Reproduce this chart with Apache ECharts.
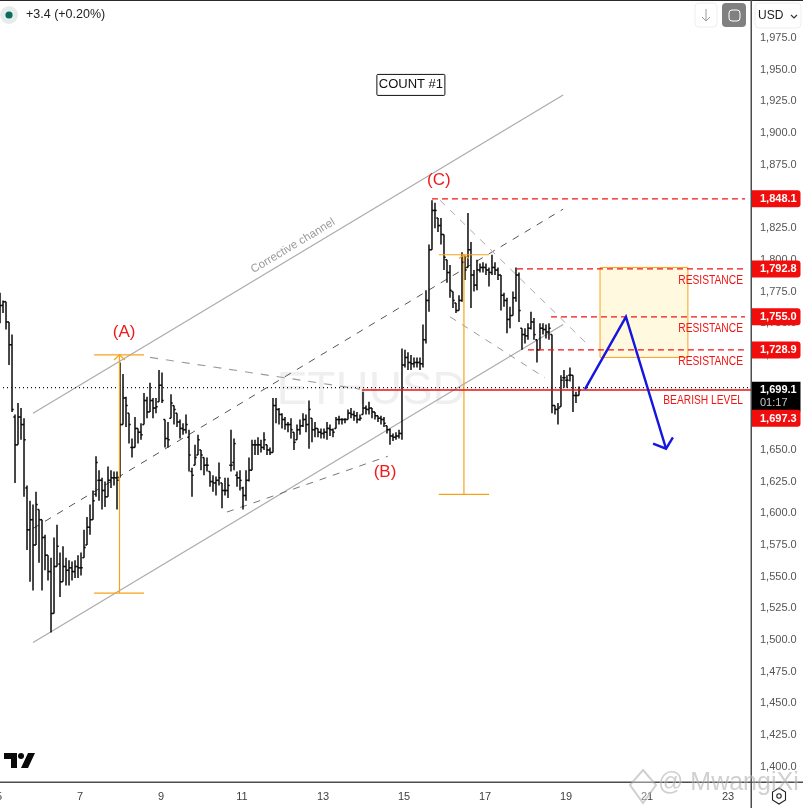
<!DOCTYPE html>
<html><head><meta charset="utf-8">
<style>html,body{margin:0;padding:0;background:#fff}#c{width:803px;height:808px}</style>
<script src="https://cdn.jsdelivr.net/npm/echarts@6/dist/echarts.min.js"></script>
</head><body><div id="c"></div>
<script>
const dayStart = 5.025, barDays = 0.07407;
const highs = [1774,1768,1760,1742,1741,1678,1687,1683,1675,1622,1610,1607,1617,1603,1595,1583,1567,1565,1581,1591,1569,1574,1565,1563,1562,1563,1567,1569,1587,1597,1607,1618,1645,1634,1628,1625,1637,1634,1633,1633,1719,1710,1692,1679,1659,1676,1667,1671,1695,1692,1703,1691,1691,1713,1711,1674,1672,1694,1685,1679,1674,1671,1678,1666,1636,1654,1662,1650,1644,1644,1633,1630,1629,1640,1624,1628,1628,1666,1659,1633,1634,1621,1634,1644,1658,1658,1660,1658,1664,1654,1652,1691,1691,1683,1679,1676,1672,1675,1664,1670,1674,1679,1678,1689,1675,1672,1667,1667,1667,1672,1670,1667,1676,1677,1675,1675,1682,1683,1681,1680,1678,1696,1685,1688,1683,1680,1677,1677,1676,1669,1667,1663,1664,1666,1730,1729,1727,1725,1723,1723,1723,1749,1776,1812,1847,1845,1833,1833,1820,1800,1796,1775,1766,1772,1806,1803,1837,1814,1792,1800,1797,1798,1797,1794,1804,1798,1794,1788,1774,1770,1763,1775,1794,1790,1746,1746,1750,1759,1754,1737,1750,1750,1749,1750,1741,1685,1687,1709,1713,1709,1715,1709,1696,1700];
const lows = [1750,1758,1745,1717,1680,1624,1654,1658,1613,1571,1546,1539,1581,1561,1539,1555,1547,1506,1551,1562,1534,1549,1543,1543,1547,1549,1549,1551,1565,1575,1583,1601,1613,1610,1603,1605,1614,1620,1622,1603,1628,1671,1668,1655,1644,1659,1655,1658,1670,1675,1680,1675,1679,1688,1687,1652,1652,1675,1670,1668,1659,1662,1663,1633,1613,1638,1646,1634,1630,1633,1621,1617,1614,1622,1604,1614,1612,1633,1634,1621,1618,1603,1610,1625,1644,1646,1646,1648,1650,1646,1646,1648,1671,1670,1667,1666,1664,1659,1650,1658,1662,1668,1664,1651,1656,1660,1660,1659,1659,1658,1661,1660,1667,1670,1670,1671,1674,1675,1673,1671,1673,1678,1678,1678,1675,1674,1672,1670,1668,1663,1654,1657,1658,1659,1658,1715,1713,1713,1715,1715,1713,1715,1734,1759,1808,1825,1822,1812,1792,1782,1770,1762,1758,1760,1767,1784,1794,1762,1775,1776,1790,1790,1788,1779,1788,1788,1784,1760,1763,1742,1746,1760,1767,1751,1729,1734,1737,1745,1737,1719,1731,1741,1738,1737,1679,1678,1670,1684,1699,1699,1704,1680,1687,1693];
const closes = [1764,1767,1751,1733,1682,1654,1676,1670,1658,1587,1595,1575,1607,1595,1581,1567,1554,1521,1558,1574,1546,1558,1555,1557,1554,1558,1557,1557,1573,1589,1595,1610,1640,1626,1618,1613,1626,1628,1628,1626,1670,1691,1685,1670,1652,1667,1664,1662,1689,1680,1689,1683,1684,1701,1689,1659,1658,1687,1682,1672,1667,1666,1670,1646,1630,1644,1658,1646,1638,1638,1625,1624,1626,1628,1618,1618,1622,1638,1655,1628,1626,1614,1626,1634,1654,1654,1654,1652,1658,1650,1648,1685,1682,1678,1674,1670,1670,1666,1656,1666,1669,1674,1670,1682,1666,1667,1664,1663,1664,1667,1666,1664,1674,1674,1674,1674,1679,1678,1677,1674,1675,1683,1682,1683,1680,1677,1675,1674,1671,1666,1661,1660,1661,1663,1717,1723,1719,1718,1719,1719,1718,1737,1768,1808,1839,1839,1827,1820,1802,1790,1776,1768,1760,1768,1798,1792,1808,1788,1780,1792,1794,1794,1792,1790,1794,1792,1788,1772,1768,1753,1756,1770,1788,1760,1741,1740,1746,1751,1741,1729,1746,1745,1743,1746,1685,1682,1683,1705,1707,1705,1709,1693,1693,1697];
const opens = [1770,1764,1767,1751,1733,1676,1654,1676,1670,1620,1587,1595,1575,1603,1595,1581,1567,1554,1521,1558,1560,1546,1558,1555,1557,1554,1558,1557,1565,1575,1589,1595,1615,1626,1626,1618,1613,1626,1628,1628,1628,1670,1691,1679,1652,1652,1667,1664,1670,1689,1680,1689,1683,1688,1701,1674,1659,1675,1685,1679,1672,1667,1666,1660,1633,1638,1646,1650,1644,1638,1633,1625,1624,1626,1624,1618,1618,1638,1640,1630,1628,1620,1614,1626,1634,1654,1654,1654,1652,1654,1650,1648,1685,1682,1678,1674,1670,1670,1664,1658,1666,1669,1674,1670,1675,1666,1667,1664,1663,1664,1667,1666,1667,1674,1674,1674,1674,1679,1678,1677,1674,1678,1683,1682,1683,1680,1677,1675,1674,1669,1666,1661,1660,1661,1663,1717,1723,1719,1718,1719,1719,1718,1737,1768,1808,1839,1833,1827,1820,1800,1790,1775,1766,1760,1768,1798,1794,1808,1788,1780,1792,1794,1794,1792,1790,1794,1792,1788,1772,1768,1753,1756,1770,1788,1746,1741,1740,1746,1751,1737,1729,1746,1745,1743,1741,1685,1682,1684,1707,1705,1709,1709,1693,1693];

const yTicks = [1400,1425,1450,1475,1500,1525,1550,1575,1600,1625,1650,1675,1700,1725,1750,1775,1800,1825,1850,1875,1900,1925,1950,1975];
const xTicks = [5,7,9,11,13,15,17,19,21,23];

const channelUpper = [[5.84,1679],[18.93,1930]];
const channelLower = [[5.84,1498],[18.93,1749]];
const channelMid = [[5.84,1588],[18.93,1840]];
const wedgeTop = [[8.73,1723],[13.91,1698]];
const wedgeBottom = [[10.63,1601],[14.6,1645]];
const fallUpper = [[15.89,1847],[19.54,1733]];
const fallLower = [[16.14,1755],[18.48,1707]];
const measureA = [[7.975,1725],[7.975,1537]];
const measureACapTop = [[7.35,1725],[8.58,1725]];
const measureACapBottom = [[7.35,1537],[8.58,1537]];
const measureAHead = [[7.84,1721],[7.975,1725],[8.11,1721]];
const measureC = [[16.48,1804],[16.48,1615]];
const measureCCapTop = [[15.86,1804],[17.1,1804]];
const measureCCapBottom = [[15.86,1615],[17.1,1615]];
const measureCHead = [[16.36,1801],[16.48,1804],[16.6,1801]];
const dashLevels = [[15.69,1848.1],[17.79,1792.8],[18.63,1755],[18.06,1728.9]];
const dashEnd = 23.42;
const bearishLevel = [[13.96,1697.3],[23.57,1697.3]];
const lastPrice = [[5,1699.1],[23.57,1699.1]];
const zoneBox = {x0:19.84,x1:22.01,y0:1794,y1:1723};
const projection = [[19.47,1698],[20.48,1755],[21.47,1651]];
const projectionHead = [[21.15,1655],[21.47,1651],[21.64,1660]];

const notes = [
  {t:'(A)',x:8.09,y:1743,c:'#f01a1a',s:17,f:'Liberation Sans'},
  {t:'(B)',x:14.53,y:1632,c:'#f01a1a',s:17,f:'Liberation Sans'},
  {t:'(C)',x:15.86,y:1863,c:'#f01a1a',s:17,f:'Liberation Sans'}
];
const sideNotes = [
  {t:'RESISTANCE',y:1784},{t:'RESISTANCE',y:1746},{t:'RESISTANCE',y:1720},{t:'BEARISH LEVEL',y:1689}
];
const sideNoteX = 23.37;
const badges = [
  {t:'1,848.1',y:1848.1},{t:'1,792.8',y:1792.8},{t:'1,755.0',y:1755},{t:'1,728.9',y:1728.9},{t:'1,697.3',y:1675}
];
const priceBadge = {t:'1,699.1',t2:'01:17',y:1692};

const bars = highs.map((h,i)=>[dayStart+i*barDays,opens[i],h,lows[i],closes[i]]);
const FONT='Liberation Sans';
function line(data,color,width,dash,z){
  return {type:'line',data,showSymbol:false,symbol:'none',silent:true,animation:false,z:z||3,
    lineStyle:{color,width,type:dash||'solid',cap:'butt',join:'miter'}};
}
const series=[];
series.push({type:'custom',z:1,silent:true,animation:false,data:[[zoneBox.x0,zoneBox.y0,zoneBox.x1,zoneBox.y1]],encode:{x:[0,2],y:[1,3]},
  renderItem(p,api){
    const a=api.coord([api.value(0),api.value(1)]),b=api.coord([api.value(2),api.value(3)]);
    return {type:'rect',shape:{x:a[0],y:a[1],width:b[0]-a[0],height:b[1]-a[1]},style:{fill:'#fff9e0',stroke:'#f7a21b',lineWidth:1}};
  }});
series.push({type:'custom',z:2,silent:true,animation:false,data:[[14.19,1696,'ETHUSD']],encode:{x:0,y:1},
  renderItem(p,api){
    const a=api.coord([api.value(0),api.value(1)]);
    return {type:'text',style:{text:'ETHUSD',x:a[0],y:a[1],align:'center',verticalAlign:'middle',font:'46px "Liberation Sans"',fill:'#efefef'}};
  }});
[channelUpper,channelLower].forEach(d=>series.push(line(d,'#ababab',1.2)));
series.push(line(channelMid,'#555555',1,[7,7]));
series.push(line(wedgeTop,'#9a9a9a',1.1,[8,8]));
series.push(line(wedgeBottom,'#777777',1,[7,7]));
series.push(line(fallUpper,'#ababab',1,[7,7]));
series.push(line(fallLower,'#9a9a9a',1,[7,7]));
series.push(line(lastPrice,'#111111',1.2,[1,3]));
series.push({type:'custom',z:5,silent:true,animation:false,clip:false,data:bars,encode:{x:0,y:[1,2,3,4]},
  renderItem(p,api){
    const x=api.value(0),o=api.value(1),h=api.value(2),l=api.value(3),c=api.value(4);
    const px=api.coord([x,h])[0];
    const pH=api.coord([x,Math.max(h,o,c)])[1],pL=api.coord([x,Math.min(l,o,c)])[1],pO=api.coord([x,o])[1],pC=api.coord([x,c])[1];
    const st={stroke:'#0a0a0a',lineWidth:1.5};
    return {type:'group',children:[
      {type:'line',shape:{x1:px,y1:pH,x2:px,y2:pL},style:st},
      {type:'line',shape:{x1:px-1.7,y1:pO,x2:px,y2:pO},style:st},
      {type:'line',shape:{x1:px,y1:pC,x2:px+1.7,y2:pC},style:st}]};
  }});
[measureA,measureACapTop,measureACapBottom,measureAHead,measureC,measureCCapTop,measureCCapBottom,measureCHead].forEach(d=>series.push(line(d,'#f7a21b',1.2,null,6)));
dashLevels.forEach(l=>series.push(line([l,[dashEnd,l[1]]],'#f01414',1.2,[6,4],6)));
series.push(line(bearishLevel,'#e01414',1.3,null,6));
series.push(line(projection,'#1616e0',2.4,null,7));
series.push(line(projectionHead,'#1616e0',2.4,null,7));

series.push({type:'custom',z:8,silent:true,animation:false,clip:false,data:notes.map((n,i)=>[n.x,n.y,i]),encode:{x:0,y:1},
  renderItem(p,api){
    const n=notes[api.value(2)],a=api.coord([api.value(0),api.value(1)]);
    return {type:'text',style:{text:n.t,x:a[0],y:a[1],align:'center',verticalAlign:'middle',font:n.s+'px "'+n.f+'"',fill:n.c}};
  }});
series.push({type:'custom',z:8,silent:true,animation:false,clip:false,data:sideNotes.map((n,i)=>[sideNoteX,n.y,i]),encode:{x:0,y:1},
  renderItem(p,api){
    const n=sideNotes[api.value(2)],a=api.coord([api.value(0),api.value(1)]);
    return {type:'text',x:a[0],y:a[1],scaleX:0.82,originX:0,originY:0,style:{text:n.t,x:0,y:0,align:'right',verticalAlign:'middle',font:'12.5px "Liberation Sans"',fill:'#f01414'}};
  }});
series.push({type:'custom',z:8,silent:true,animation:false,clip:false,data:[[15.17,1938]],encode:{x:0,y:1},
  renderItem(p,api){
    const a=api.coord([api.value(0),api.value(1)]);
    return {type:'group',children:[
      {type:'rect',shape:{x:a[0]-34,y:a[1]-10.5,width:68,height:21,r:1},style:{fill:'#fff',stroke:'#111',lineWidth:1}},
      {type:'text',style:{text:'COUNT #1',x:a[0],y:a[1],align:'center',verticalAlign:'middle',font:'13px "Liberation Sans Narrow","Liberation Sans"',fill:'#111'}}]};
  }});
series.push({type:'custom',z:8,silent:true,animation:false,clip:false,data:[[12.26,1811]],encode:{x:0,y:1},
  renderItem(p,api){
    const a=api.coord([api.value(0),api.value(1)]);
    return {type:'text',x:a[0],y:a[1],rotation:0.54,originX:0,originY:0,style:{text:'Corrective channel',x:0,y:0,align:'center',verticalAlign:'middle',font:'11.5px "Liberation Sans"',fill:'#9a9a9a'}};
  }});
series.push({type:'custom',z:20,silent:true,animation:false,clip:false,data:badges.map((b,i)=>[23.568,b.y,i]),encode:{x:0,y:1},
  renderItem(p,api){
    const b=badges[api.value(2)],a=api.coord([api.value(0),api.value(1)]);
    return {type:'group',children:[
      {type:'rect',shape:{x:a[0]+0.5,y:a[1]-8.5,width:49,height:17,r:[0,3,3,0]},style:{fill:'#f20d0d'}},
      {type:'text',style:{text:b.t,x:a[0]+9,y:a[1]+0.5,align:'left',verticalAlign:'middle',font:'bold 11px "Liberation Sans"',fill:'#fff'}}]};
  }});
series.push({type:'custom',z:19,silent:true,animation:false,clip:false,data:[[23.568,priceBadge.y]],encode:{x:0,y:1},
  renderItem(p,api){
    const a=api.coord([api.value(0),api.value(1)]);
    return {type:'group',children:[
      {type:'rect',shape:{x:a[0]+0.5,y:a[1]-15,width:49,height:30},style:{fill:'#000'}},
      {type:'text',style:{text:priceBadge.t,x:a[0]+9,y:a[1]-7,align:'left',verticalAlign:'middle',font:'bold 11px "Liberation Sans"',fill:'#fff'}},
      {type:'text',style:{text:priceBadge.t2,x:a[0]+9,y:a[1]+6.5,align:'left',verticalAlign:'middle',font:'11px "Liberation Sans"',fill:'#c8c8c8'}}]};
  }});

const chart=echarts.init(document.getElementById('c'),null,{renderer:'canvas'});
chart.setOption({
  animation:false,backgroundColor:'#fff',
  grid:{left:-1,right:52,top:0,bottom:26,containLabel:false,outerBoundsMode:'none'},
  xAxis:{type:'value',min:5,max:23.568,splitLine:{show:false},axisLine:{show:false},axisTick:{show:false},
    axisLabel:{customValues:xTicks,formatter:v=>String(v),color:'#3f3f3f',fontSize:11,fontFamily:FONT,margin:9}},
  yAxis:{type:'value',position:'right',min:1388,max:2005,splitLine:{show:false},axisLine:{show:false},axisTick:{show:false},
    axisLabel:{customValues:yTicks,formatter:v=>v.toLocaleString('en-US',{minimumFractionDigits:1,maximumFractionDigits:1}),color:'#555',fontSize:11,fontFamily:FONT,margin:9,align:'left'}},
  series,
  graphic:{elements:[
    {type:'rect',silent:true,z:30,shape:{x:0,y:0,width:803,height:1},style:{fill:'#2a2a2a'}},
    {type:'rect',silent:true,z:30,shape:{x:750.5,y:0,width:1.5,height:808},style:{fill:'#4d4d4d'}},
    {type:'rect',silent:true,z:30,shape:{x:0,y:781.5,width:803,height:1.5},style:{fill:'#4d4d4d'}},
    {type:'circle',silent:true,z:30,shape:{cx:9,cy:15,r:9},style:{fill:'#e6ecea'}},
    {type:'circle',silent:true,z:31,shape:{cx:9,cy:15,r:3.6},style:{fill:'#0b6b5d'}},
    {type:'text',silent:true,z:31,style:{text:'+3.4 (+0.20%)',x:26,y:15,verticalAlign:'middle',font:'12.5px "Liberation Sans"',fill:'#222'}},
    {type:'rect',silent:true,z:30,shape:{x:695,y:3,width:22,height:24,r:4},style:{fill:'#fff',stroke:'#eeeeee'}},
    {type:'polyline',silent:true,z:31,shape:{points:[[706,9],[706,21]]},style:{stroke:'#9a9a9a',lineWidth:1,fill:'none'}},
    {type:'polyline',silent:true,z:31,shape:{points:[[702,17],[706,21],[710,17]]},style:{stroke:'#9a9a9a',lineWidth:1,fill:'none'}},
    {type:'rect',silent:true,z:30,shape:{x:722,y:3,width:24,height:24,r:4},style:{fill:'#808080'}},
    {type:'rect',silent:true,z:31,shape:{x:729,y:10,width:11,height:11,r:3},style:{fill:'none',stroke:'#fff',lineWidth:1}},
    {type:'rect',silent:true,z:30,shape:{x:755,y:3,width:46,height:25,r:4},style:{fill:'#fff',stroke:'#eeeeee'}},
    {type:'text',silent:true,z:31,style:{text:'USD',x:758,y:15.5,verticalAlign:'middle',font:'12px "Liberation Sans"',fill:'#1c1c1c'}},
    {type:'polyline',silent:true,z:31,shape:{points:[[791,15],[794,18],[797,15]]},style:{stroke:'#333',lineWidth:1.2,fill:'none'}},
    {type:'polygon',silent:true,z:31,shape:{points:[[4,753],[17,753],[17,768],[11,768],[11,759],[4,759]]},style:{fill:'#0a0a0a'}},
    {type:'circle',silent:true,z:31,shape:{cx:21,cy:756,r:3},style:{fill:'#0a0a0a'}},
    {type:'polygon',silent:true,z:31,shape:{points:[[28,753],[35,753],[28,768],[21,768]]},style:{fill:'#0a0a0a'}},
    {type:'polygon',silent:true,z:31,shape:{points:[[779,788],[785.5,792],[785.5,800],[779,804],[772.5,800],[772.5,792]]},style:{fill:'#fff',stroke:'#222',lineWidth:1.1}},
    {type:'circle',silent:true,z:32,shape:{cx:779,cy:796,r:2.2},style:{fill:'#fff',stroke:'#222',lineWidth:1.1}},
    {type:'polygon',silent:true,z:40,shape:{points:[[643,770],[656,785],[643,803],[630,785]]},style:{fill:'rgba(255,255,255,0.35)',stroke:'rgba(170,170,170,0.55)',lineWidth:2}},
    {type:'text',silent:true,z:40,style:{text:'@ MwangiXi',x:658,y:783,verticalAlign:'middle',font:'25px "Liberation Sans"',fill:'rgba(150,150,150,0.45)',stroke:'rgba(255,255,255,0.4)',lineWidth:1}}
  ]}
});
</script></body></html>
